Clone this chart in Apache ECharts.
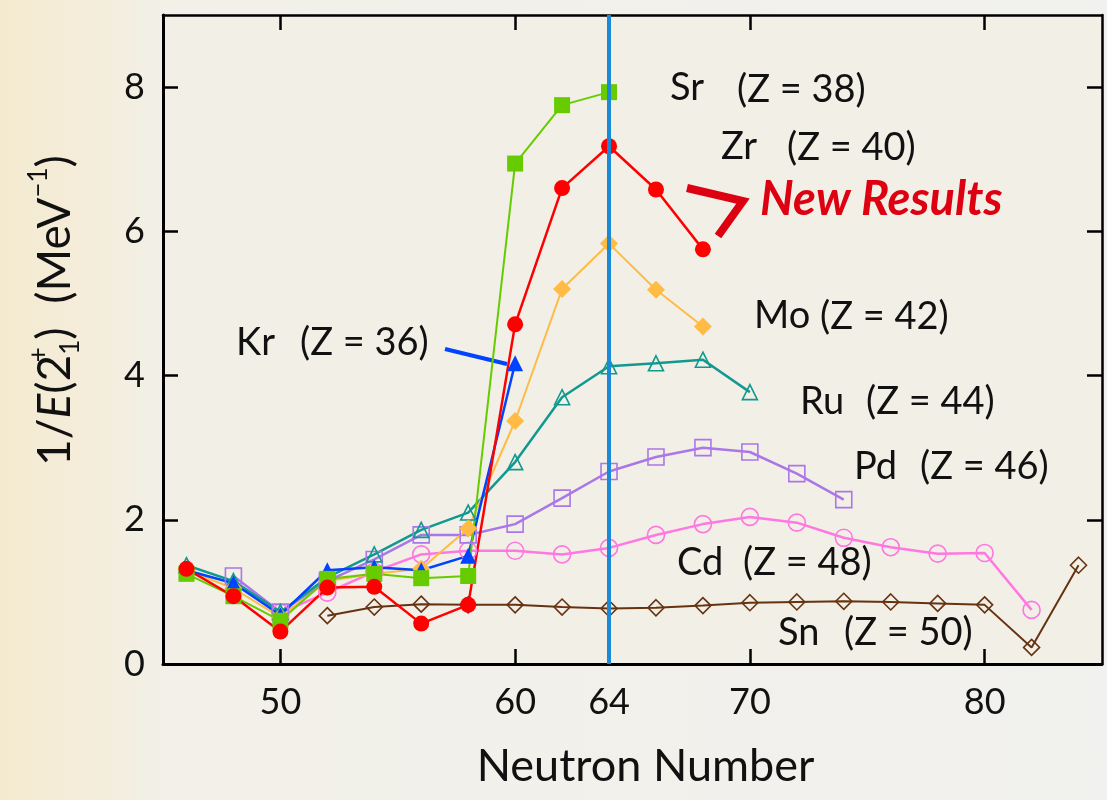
<!DOCTYPE html>
<html>
<head>
<meta charset="utf-8">
<script src="https://cdn.jsdelivr.net/npm/echarts@6/dist/echarts.min.js"></script>
<style>
  html, body { margin: 0; padding: 0; }
  body {
    width: 1107px; height: 800px; overflow: hidden;
    background: linear-gradient(to right, #f4ead0 0px, #f4eddb 90px, #f2f0e8 165px, #f1f1ef 100%);
  }
  #chart { width: 1107px; height: 800px; }
</style>
</head>
<body>
<div id="chart"></div>
<script>
// Axis ticks
const neutronLabels = [50, 60, 64, 70, 80];
const neutronTicks = [50, 60, 70, 80];
const valueTicks = [0, 2, 4, 6, 8];

// 1/E(2+) in MeV^-1 versus neutron number, one pair of arrays per element
const krN = [46, 48, 50, 52, 54, 56, 58, 60];
const krV = [1.30, 1.12, 0.68, 1.30, 1.34, 1.30, 1.50, 4.17];

const srN = [46, 48, 50, 52, 54, 56, 58, 60, 62, 64];
const srV = [1.25, 0.94, 0.60, 1.18, 1.25, 1.19, 1.22, 6.94, 7.75, 7.93];

const zrN = [46, 48, 50, 52, 54, 56, 58, 60, 62, 64, 66, 68];
const zrV = [1.32, 0.94, 0.45, 1.06, 1.07, 0.56, 0.82, 4.71, 6.60, 7.18, 6.58, 5.75];

const moN = [46, 48, 50, 52, 54, 56, 58, 60, 62, 64, 66, 68];
const moV = [1.30, 1.05, 0.65, 1.15, 1.25, 1.32, 1.88, 3.37, 5.20, 5.83, 5.19, 4.68];

const ruN = [46, 48, 50, 52, 54, 56, 58, 60, 62, 64, 66, 68, 70];
const ruV = [1.37, 1.15, 0.72, 1.20, 1.52, 1.86, 2.10, 2.80, 3.70, 4.13, 4.17, 4.22, 3.77];

const pdN = [48, 50, 52, 54, 56, 58, 60, 62, 64, 66, 68, 70, 72, 74];
const pdV = [1.22, 0.72, 1.15, 1.45, 1.79, 1.79, 1.94, 2.30, 2.67, 2.87, 3.00, 2.94, 2.64, 2.28];

const cdN = [50, 52, 54, 56, 58, 60, 62, 64, 66, 68, 70, 72, 74, 76, 78, 80, 82];
const cdV = [0.71, 0.99, 1.28, 1.52, 1.57, 1.57, 1.52, 1.61, 1.79, 1.94, 2.04, 1.96, 1.75, 1.62, 1.53, 1.54, 0.75];

const snN = [52, 54, 56, 58, 60, 62, 64, 66, 68, 70, 72, 74, 76, 78, 80, 82, 84];
const snV = [0.67, 0.79, 0.83, 0.82, 0.82, 0.79, 0.77, 0.78, 0.81, 0.85, 0.86, 0.87, 0.86, 0.84, 0.82, 0.23, 1.37];

const midshell = 64;

const FONT = 'Lato, "Open Sans", sans-serif';

function pairs(ns, vs) { return ns.map((n, i) => [n, vs[i]]); }

function filled(name, ns, vs, color, symbol, size, width) {
  return {
    name, type: 'line', data: pairs(ns, vs),
    symbol, symbolSize: size,
    lineStyle: { color, width },
    itemStyle: { color, borderWidth: 0 },
    emphasis: { disabled: true }, animation: false
  };
}
function hollow(name, ns, vs, color, symbol, size, width) {
  return {
    name, type: 'line', data: pairs(ns, vs),
    symbol, symbolSize: size,
    lineStyle: { color, width },
    itemStyle: { color: 'rgba(0,0,0,0)', borderColor: color, borderWidth: 1.6 },
    emphasis: { disabled: true }, animation: false
  };
}

const axisLineStyle = { color: '#000', width: 3 };
const tickStyle = { color: '#000', width: 2.5 };

const labelText = (x, y, text, extra) => ({
  type: 'text', x, y, silent: true,
  style: Object.assign({ text, fill: '#111', font: '38px ' + FONT, verticalAlign: 'middle', align: 'left' }, extra || {})
});

const chart = echarts.init(document.getElementById('chart'), null, { renderer: 'canvas' });

chart.setOption({
  backgroundColor: 'transparent',
  animation: false,
  grid: {
    left: 163, right: 5, top: 15, bottom: 136,
    show: true, backgroundColor: '#f2efe7', borderWidth: 0
  },
  xAxis: [{
    type: 'value', min: 45, max: 85,
    axisLine: { show: true, onZero: false, lineStyle: axisLineStyle },
    axisTick: { show: true, inside: true, length: 15, lineStyle: tickStyle, customValues: neutronTicks },
    axisLabel: { customValues: neutronLabels, color: '#111', fontFamily: FONT, fontSize: 36, margin: 20 },
    splitLine: { show: false },
    name: 'Neutron Number', nameLocation: 'middle', nameGap: 80,
    nameTextStyle: { color: '#111', fontFamily: FONT, fontSize: 45, padding: [0, 0, 0, 26] }
  }, {
    type: 'value', min: 45, max: 85, position: 'top',
    axisLine: { show: true, onZero: false, lineStyle: { color: '#000', width: 2.5 } },
    axisTick: { show: true, inside: true, length: 15, lineStyle: tickStyle, customValues: neutronTicks },
    axisLabel: { show: false }, splitLine: { show: false }
  }],
  yAxis: [{
    type: 'value', min: 0, max: 9,
    axisLine: { show: true, onZero: false, lineStyle: axisLineStyle },
    axisTick: { show: true, inside: true, length: 15, lineStyle: tickStyle, customValues: valueTicks },
    axisLabel: { customValues: valueTicks, color: '#111', fontFamily: FONT, fontSize: 36, margin: 18 },
    splitLine: { show: false },
    name: '1/{i|E}(2{p|+}{b|1})  (MeV{q|−1})',
    nameLocation: 'middle', nameRotate: 90, nameGap: 108,
    nameTextStyle: {
      color: '#111', fontFamily: FONT, fontSize: 46, lineHeight: 58, verticalAlign: 'middle',
      padding: [0, 0, 0, 58],
      rich: {
        i: { fontStyle: 'italic', fontFamily: FONT, fontSize: 46, color: '#111', lineHeight: 58 },
        p: { fontFamily: FONT, fontSize: 26, color: '#111', verticalAlign: 'top', lineHeight: 58, width: 0.01 },
        q: { fontFamily: FONT, fontSize: 26, color: '#111', verticalAlign: 'top', lineHeight: 58 },
        b: { fontFamily: FONT, fontSize: 26, color: '#111', verticalAlign: 'bottom', lineHeight: 50 }
      }
    }
  }, {
    type: 'value', min: 0, max: 9, position: 'right',
    axisLine: { show: true, onZero: false, lineStyle: { color: '#000', width: 2.5 } },
    axisTick: { show: true, inside: true, length: 15, lineStyle: tickStyle, customValues: valueTicks },
    axisLabel: { show: false }, splitLine: { show: false }
  }],
  series: [
    hollow('Sn', snN, snV, '#663311', 'diamond', 16, 2),
    hollow('Cd', cdN, cdV, '#ff77e0', 'circle', 17, 2.5),
    hollow('Pd', pdN, pdV, '#aa77e8', 'rect', 16, 2.5),
    hollow('Ru', ruN, ruV, '#11998f', 'triangle', 15, 2.5),
    filled('Mo', moN, moV, '#ffbb44', 'diamond', 18, 2),
    filled('Kr', krN, krV, '#0044ff', 'triangle', 16, 2.5),
    filled('Sr', srN, srV, '#66cc00', 'rect', 16, 2),
    filled('Zr', zrN, zrV, '#ff0000', 'circle', 16, 2.5),
    {
      name: 'N = 64', type: 'line', data: [], z: 5, silent: true,
      markLine: {
        silent: true, symbol: ['none', 'none'], animation: false,
        label: { show: false },
        lineStyle: { color: '#1a8ad8', width: 4, type: 'solid' },
        data: [{ xAxis: midshell }]
      }
    }
  ],
  graphic: [
    labelText(670, 88, 'Sr'), labelText(737, 90, '(Z = 38)'),
    labelText(721, 147, 'Zr'), labelText(787, 148, '(Z = 40)'),
    labelText(754, 316, 'Mo'), labelText(820, 317, '(Z = 42)'),
    labelText(236, 343, 'Kr'), labelText(300, 343, '(Z = 36)'),
    labelText(800, 402, 'Ru'), labelText(866, 402, '(Z = 44)'),
    labelText(854, 467, 'Pd'), labelText(920, 467, '(Z = 46)'),
    labelText(677, 563, 'Cd'), labelText(743, 563, '(Z = 48)'),
    labelText(778, 633, 'Sn'), labelText(844, 633, '(Z = 50)'),
    labelText(760, 200, 'New Results', { fill: '#dd0011', font: 'italic bold 47px ' + FONT }),
    {
      type: 'polyline', silent: true,
      shape: { points: [[687, 188], [743, 201], [718, 236]] },
      style: { stroke: '#dd0011', lineWidth: 8, fill: null, lineJoin: 'miter' }
    },
    {
      type: 'line', silent: true,
      shape: { x1: 445, y1: 349, x2: 507, y2: 364 },
      style: { stroke: '#0044ff', lineWidth: 4 }
    }
  ]
});
</script>
</body>
</html>
